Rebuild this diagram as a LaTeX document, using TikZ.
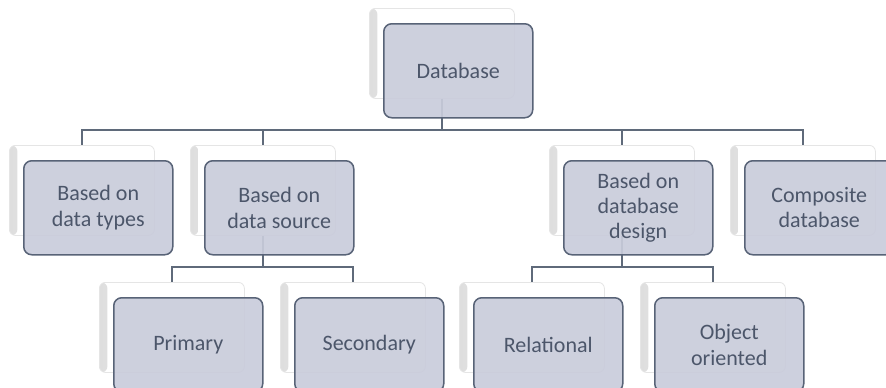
\documentclass[tikz,border=0pt]{standalone}
\usepackage{fontspec}
\setmainfont{Carlito}
\definecolor{boxfill}{HTML}{C9CCDB}
\definecolor{boxedge}{HTML}{586377}
\definecolor{boxtext}{HTML}{4C566A}
\definecolor{wire}{HTML}{5F6A7A}
\tikzset{
  backcard/.style={anchor=north west, minimum width=145pt, minimum height=90pt,
    inner sep=0pt, rounded corners=6pt, draw=black!10, line width=0.8pt, fill=white,
    path picture={\shade[left color=black!13, right color=white]
      (path picture bounding box.north west) rectangle
      ([xshift=8pt]path picture bounding box.south west);}},
  frontcard/.style={anchor=north west, minimum width=149pt, minimum height=94pt,
    inner sep=2pt, rounded corners=8pt, draw=boxedge, line width=1.5pt,
    fill=boxfill, fill opacity=0.92, text opacity=1, text=boxtext, align=center,
    font=\fontsize{22}{25.5}\selectfont},
  wireline/.style={draw=wire, line width=1.3pt}
}
\begin{document}
\begin{tikzpicture}[x=1pt,y=-1pt]
\useasboundingbox (0,0) rectangle (886,388);
\clip (0,0) rectangle (886,388);

% back cards
\node[backcard] (b-db)    at (369,8)   {};
\node[backcard] (b-types) at (9,145)   {};
\node[backcard] (b-src)   at (190,145) {};
\node[backcard] (b-des)   at (549,145) {};
\node[backcard] (b-comp)  at (730,145) {};
\node[backcard] (b-prim)  at (99,282)  {};
\node[backcard] (b-sec)   at (280,282) {};
\node[backcard] (b-rel)   at (459,282) {};
\node[backcard] (b-obj)   at (640,282) {};

% bus levels
\coordinate (bus1) at (0,130);
\coordinate (bus2) at (0,267);

% connectors
\draw[wireline] (b-db.south) -- (b-db.south |- bus1) -| (b-types.north);
\draw[wireline] (b-db.south |- bus1) -| (b-src.north);
\draw[wireline] (b-db.south |- bus1) -| (b-des.north);
\draw[wireline] (b-db.south |- bus1) -| (b-comp.north);
\draw[wireline] (b-src.south) -- (b-src.south |- bus2) -| (b-prim.north);
\draw[wireline] (b-src.south |- bus2) -| (b-sec.north);
\draw[wireline] (b-des.south) -- (b-des.south |- bus2) -| (b-rel.north);
\draw[wireline] (b-des.south |- bus2) -| (b-obj.north);

% front cards
\node[frontcard] (f-db)    at (383,23)  {Database};
\node[frontcard] (f-types) at (23,160)  {Based on\\data types};
\node[frontcard] (f-src)   at (204,160) {Based on\\data source};
\node[frontcard] (f-des)   at (563,160) {Based on\\database\\design};
\node[frontcard] (f-comp)  at (744,160) {Composite\\database};
\node[frontcard] (f-prim)  at (113,297) {Primary};
\node[frontcard] (f-sec)   at (294,297) {Secondary};
\node[frontcard] (f-rel)   at (473,297) {Relational};
\node[frontcard] (f-obj)   at (654,297) {Object\\oriented};
\end{tikzpicture}
\end{document}
